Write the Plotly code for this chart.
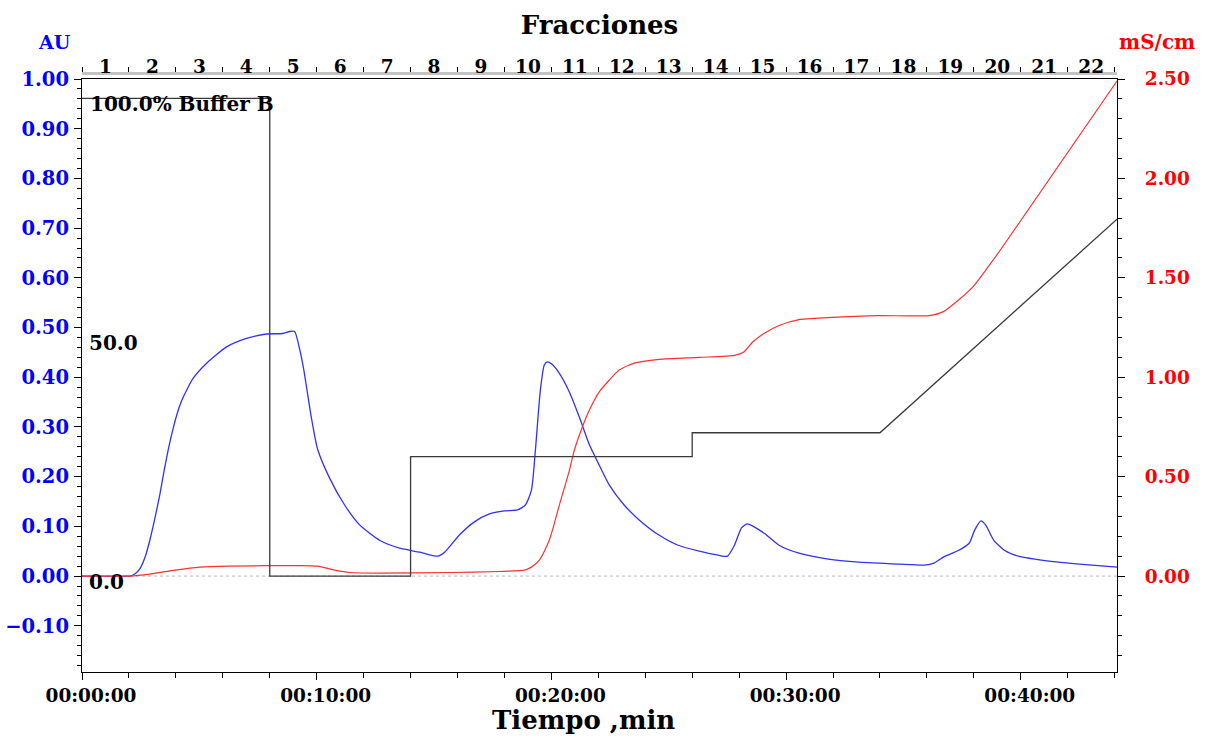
import plotly.graph_objects as go

# ---- data ----
uv_t = [0, 1.62, 2.04, 2.25, 2.47, 2.7, 2.89, 3.1, 3.32, 3.5, 3.7, 3.89, 4.05, 4.24, 4.5, 4.74, 5.31, 6.16, 7.01,
        7.86, 8.55, 8.85, 9.06,
        9.28, 9.45, 9.62, 9.79, 10.04, 10.55, 11.19, 11.83, 12.68, 13.53, 14.4, 15.15,
        15.45, 16.09, 16.72, 17.36, 18.0, 18.55, 18.89, 19.15, 19.32, 19.53, 19.70, 19.83, 20.0, 20.34,
        20.77, 21.19, 21.62, 22.04, 22.47, 23.1, 23.74, 24.6, 25.4, 26.3, 27.1, 27.5,
        27.8, 28.1, 28.34, 28.6, 29.1, 29.7, 30.55, 31.8, 33.1, 34.8, 35.9, 36.3, 36.7, 37.36, 37.8,
        38.04, 38.3, 38.5, 38.85, 39.3, 39.9, 41.2, 42.5, 44.1]
uv_au = [0, 0, 0.0, 0.004, 0.015, 0.04, 0.072, 0.115, 0.165, 0.212, 0.26, 0.298, 0.326, 0.352, 0.378, 0.398, 0.428,
         0.461, 0.478, 0.487, 0.488, 0.492, 0.492,
         0.455, 0.415, 0.364, 0.314, 0.255, 0.197, 0.143, 0.103, 0.072, 0.056, 0.048, 0.040,
         0.048, 0.083, 0.109, 0.125, 0.131, 0.133, 0.143, 0.173, 0.254, 0.374, 0.425, 0.431, 0.427, 0.408,
         0.37, 0.32, 0.264, 0.223, 0.183, 0.143, 0.113, 0.082, 0.062, 0.05, 0.042, 0.040,
         0.062, 0.097, 0.105, 0.10, 0.085, 0.062, 0.046, 0.034, 0.028, 0.024, 0.022, 0.026, 0.038, 0.052, 0.066,
         0.093, 0.111, 0.103, 0.072, 0.052, 0.04, 0.03, 0.024, 0.018]

cond_t = [0, 2.04, 2.89, 3.96, 5.02, 6.3, 9.28, 10.04, 10.77, 11.4, 12.68, 15.66, 17.8, 18.85, 19.15, 19.49,
          19.91, 20.34, 20.77, 20.98, 21.32, 21.62, 22.04, 22.47, 22.89, 23.5, 24.6, 26.3, 27.8, 28.2,
          28.6, 29.06, 29.7, 30.55, 31.8, 33.96, 36.1, 36.7, 37.36, 38.0, 38.64, 39.28, 44.1]
cond_ms = [0, 0, 0.01, 0.03, 0.045, 0.05, 0.053, 0.05, 0.03, 0.018, 0.015, 0.018, 0.023, 0.03, 0.045, 0.08,
           0.18, 0.357, 0.533, 0.634, 0.75, 0.835, 0.926, 0.986, 1.036, 1.07, 1.09, 1.10, 1.11, 1.127,
           1.18, 1.22, 1.26, 1.29, 1.30, 1.31, 1.31, 1.33, 1.39, 1.46, 1.56, 1.665, 2.49]

grad_t = [0, 8, 8, 14, 14, 26, 26, 34, 44.1]
grad_b = [100, 100, 0, 0, 25, 25, 30, 30, 74.7]

time_ticks = [0, 10, 20, 30, 40]
time_labels = ["00:00:00", "00:10:00", "00:20:00", "00:30:00", "00:40:00"]
frac_pos = [2 * i + 1 for i in range(22)]
frac_labels = [str(i + 1) for i in range(22)]

XMAX = 44.1
FONT = "DejaVu Serif"

fig = go.Figure()
fig.add_trace(go.Scatter(x=grad_t, y=grad_b, mode="lines", line=dict(color="#3a3a3a", width=1.3),
                         xaxis="x", yaxis="y3", showlegend=False, hoverinfo="skip"))
fig.add_trace(go.Scatter(x=cond_t, y=cond_ms, mode="lines", line=dict(color="#ff3030", width=1.2, shape="spline", smoothing=0.6),
                         xaxis="x", yaxis="y2", showlegend=False))
fig.add_trace(go.Scatter(x=uv_t, y=uv_au, mode="lines", line=dict(color="#3030ff", width=1.3, shape="spline", smoothing=0.6),
                         xaxis="x", yaxis="y", showlegend=False))
fig.add_trace(go.Scatter(x=[0, XMAX], y=[None, None], mode="lines", xaxis="x2", yaxis="y",
                         showlegend=False, hoverinfo="skip"))

dom_top = 1 - 6 / 599
TS = 18.5

fig.update_layout(
    width=1205, height=736,
    margin=dict(l=82, r=88, t=73, b=64, autoexpand=False),
    paper_bgcolor="white", plot_bgcolor="white",
    font=dict(family=FONT),
    title=dict(text="<b>Fracciones</b>", x=0.5, xref="paper", xanchor="center",
               y=1 - 25 / 736, yref="container", yanchor="middle",
               font=dict(family=FONT, size=26, color="black")),
    xaxis=dict(range=[0, XMAX], tickvals=time_ticks, ticktext=[f"<b>{s}</b>" for s in time_labels],
               ticks="outside", ticklen=7, tickcolor="black", showline=True, linecolor="black", linewidth=1.2,
               mirror=True, showgrid=False, zeroline=False,
               tickfont=dict(family=FONT, size=TS, color="black"), ticklabelshift=9,
               minor=dict(dtick=2, tick0=0, ticks="outside", ticklen=5, tickcolor="black"),
               anchor="y", automargin=False),
    xaxis2=dict(range=[0, XMAX], overlaying="x", side="top", anchor="free", position=1,
                tickvals=frac_pos, ticktext=[f"<b>{s}</b>" for s in frac_labels], ticks="",
                showline=True, linecolor="#c4c4c4", linewidth=3, showgrid=False, zeroline=False,
                tickfont=dict(family=FONT, size=TS, color="black"), ticklabelstandoff=-8,
                minor=dict(dtick=2, tick0=0, ticks="outside", ticklen=5, tickcolor="black"),
                automargin=False),
    yaxis=dict(domain=[0, dom_top], range=[-0.193, 1.0], tick0=0, dtick=0.1, tickformat=".2f",
               ticks="outside", ticklen=7, tickcolor="black", showline=True, linecolor="black", linewidth=1.2,
               showgrid=False, zeroline=False,
               tickfont=dict(family=FONT, size=19.5, color="blue"), ticklabelstandoff=1,
               tickprefix="<b>", ticksuffix="</b>",
               minor=dict(dtick=0.02, tick0=0, ticks="outside", ticklen=4, tickcolor="black"),
               anchor="x", automargin=False),
    yaxis2=dict(domain=[0, dom_top], range=[-0.4825, 2.5], tick0=0, dtick=0.5, tickformat=".2f",
                overlaying="y", side="right", anchor="x",
                ticks="outside", ticklen=7, tickcolor="black", showline=True, linecolor="black", linewidth=1.2,
                showgrid=False, zeroline=False,
                tickfont=dict(family=FONT, size=TS, color="red"), ticklabelstandoff=16,
                tickprefix="<b>", ticksuffix="</b>",
                minor=dict(dtick=0.1, tick0=0, ticks="outside", ticklen=4, tickcolor="black"),
                automargin=False),
    yaxis3=dict(domain=[0, dom_top], range=[-20.08, 104.05], overlaying="y", visible=False, anchor="x"),
    shapes=[dict(type="line", xref="paper", x0=0, x1=1, yref="y", y0=0, y1=0, layer="below",
                 line=dict(color="#b8b8b8", width=1, dash="dot"))],
)

ann_font = dict(family=FONT, size=20, color="black")
fig.add_annotation(text="<b>100.0% Buffer B</b>", xref="paper", x=0, xshift=6, xanchor="left",
                   yref="y3", y=100, yshift=-6, yanchor="middle", showarrow=False, font=ann_font)
fig.add_annotation(text="<b>50.0</b>", xref="paper", x=0, xshift=5, xanchor="left",
                   yref="y3", y=50, yshift=-6, yanchor="middle", showarrow=False, font=ann_font)
fig.add_annotation(text="<b>0.0</b>", xref="paper", x=0, xshift=5, xanchor="left",
                   yref="y3", y=0, yshift=-6, yanchor="middle", showarrow=False, font=ann_font)
fig.add_annotation(text="<b>AU</b>", xref="paper", x=(54 - 82) / 1035, xanchor="center",
                   yref="paper", y=(672 - 42) / 599, yanchor="middle", showarrow=False,
                   font=dict(family=FONT, size=19, color="blue"))
fig.add_annotation(text="<b>mS/cm</b>", xref="paper", x=(1157 - 82) / 1035, xanchor="center",
                   yref="paper", y=(672 - 42) / 599, yanchor="middle", showarrow=False,
                   font=dict(family=FONT, size=20, color="red"))
fig.add_annotation(text="<b>Tiempo ,min</b>", xref="paper", x=(583 - 82) / 1035, xanchor="center",
                   yref="paper", y=(672 - 720) / 599, yanchor="middle", showarrow=False,
                   font=dict(family=FONT, size=26, color="black"))

fig.write_html("out.html", config={"displayModeBar": False},
               post_script="document.body.style.margin='0';document.body.style.padding='0';")
